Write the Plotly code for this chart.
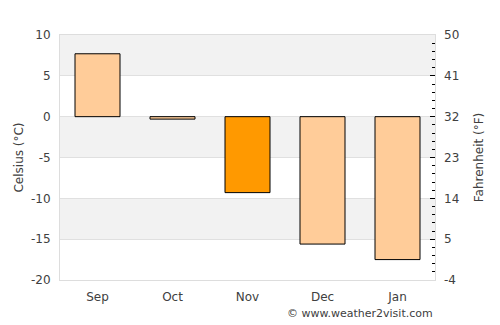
import plotly.graph_objects as go

months = ["Sep", "Oct", "Nov", "Dec", "Jan"]
celsius = [7.7, -0.3, -9.3, -15.6, -17.5]
colors = ["#ffcc99", "#ffcc99", "#ff9900", "#ffcc99", "#ffcc99"]
c_ticks = [10, 5, 0, -5, -10, -15, -20]
f_ticks = [50, 41, 32, 23, 14, 5, -4]

font = dict(family="DejaVu Sans", size=12, color="#404040")

fig = go.Figure()
fig.add_trace(go.Bar(x=months, y=celsius, marker=dict(color=colors, line=dict(color="black", width=1)),
                     width=0.6, showlegend=False))
fig.add_trace(go.Scatter(x=months, y=[None]*5, yaxis="y2", showlegend=False, hoverinfo="skip"))

shapes = []
cs = sorted(c_ticks)
for i in range(len(cs) - 1):
    if i % 2 == 1:
        shapes.append(dict(type="rect", xref="paper", yref="y", x0=0, x1=1, y0=cs[i], y1=cs[i + 1],
                           fillcolor="#f2f2f2", line=dict(width=0), layer="below"))

fig.update_layout(
    width=500, height=325,
    margin=dict(l=60, r=65, t=35, b=45),
    plot_bgcolor="white", paper_bgcolor="white",
    font=font, shapes=shapes,
    xaxis=dict(showline=True, linecolor="#dddddd", mirror=True, ticks="", showgrid=False,
               tickfont=font, ticklabelstandoff=6),
    yaxis=dict(range=[-20, 10], tickvals=c_ticks, ticktext=[str(v) for v in c_ticks],
               showgrid=True, gridcolor="#e0e0e0",
               zeroline=False, showline=True, linecolor="#dddddd", mirror=True,
               title=dict(text="Celsius (°C)", font=font, standoff=4), tickfont=font, ticks="",
               ticklabelstandoff=6),
    yaxis2=dict(range=[-4, 50], tickvals=f_ticks, ticktext=[str(v) for v in f_ticks],
                overlaying="y", side="right", showgrid=False,
                zeroline=False, ticks="inside", ticklen=5, tickcolor="#000000", tickwidth=1,
                minor=dict(dtick=1.8, tick0=-4, ticks="inside", ticklen=3, tickcolor="#000000", showgrid=False),
                title=dict(text="Fahrenheit (°F)", font=font, standoff=16), tickfont=font,
                ticklabelstandoff=8),
    annotations=[dict(text="© www.weather2visit.com", xref="paper", yref="paper", x=1, y=-0.1,
                      xanchor="right", yanchor="top", showarrow=False,
                      font=dict(family="DejaVu Sans", size=11, color="#404040"))],
)
fig.write_html("out.html")
